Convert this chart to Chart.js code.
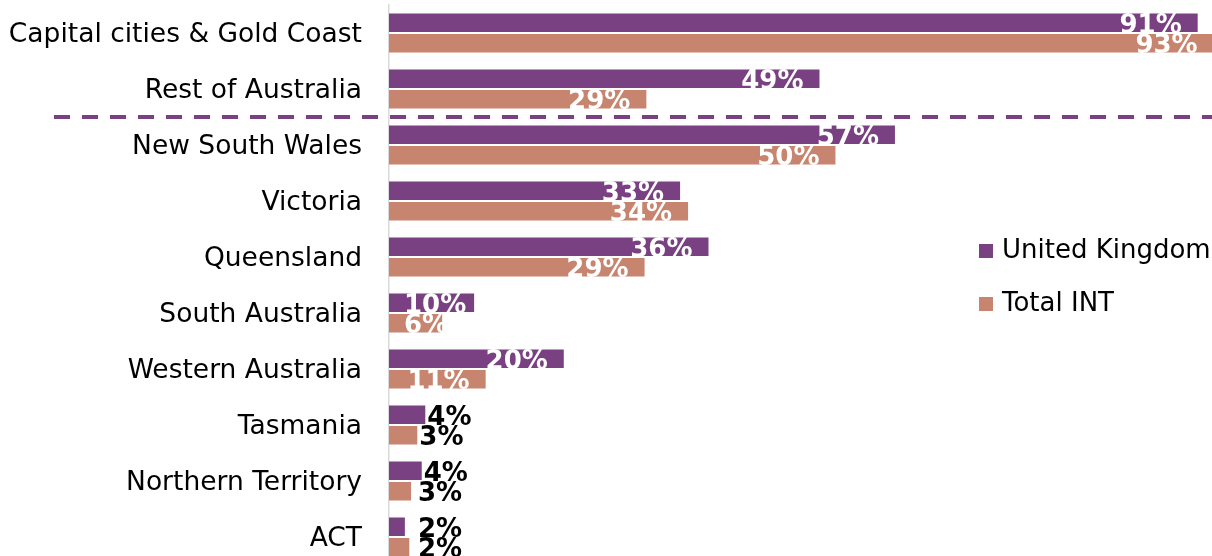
<!DOCTYPE html>
<html><head><meta charset="utf-8">
<script src="https://cdn.jsdelivr.net/npm/chart.js@4/dist/chart.umd.min.js"></script>
<style>
html,body{margin:0;padding:0;overflow:hidden;background:#fff;width:1212px;height:556px}
#wrap{position:absolute;left:0;top:0;width:1212px;height:570px}
</style></head>
<body><div id="wrap"><canvas id="c"></canvas></div>
<script>
const categories = ['Capital cities & Gold Coast','Rest of Australia','New South Wales','Victoria','Queensland','South Australia','Western Australia','Tasmania','Northern Territory','ACT'];
const ukValues  = [91.2, 48.6, 57.1, 32.9, 36.1, 9.7, 19.8, 4.2, 3.8, 1.9];
const intValues = [93.0, 29.1, 50.4, 33.8, 28.9, 6.1, 11.0, 3.3, 2.6, 2.4];
const seriesNames = ['United Kingdom','Total INT'];
const seriesColors = ['#7A4182','#C7846E'];
const FONT = '"DejaVu Sans", Verdana, sans-serif';

const labelPlugin = {
  id:'valueLabels',
  afterDatasetsDraw(chart){
    const ctx = chart.ctx;
    const axisX = chart.chartArea.left;
    ctx.save();
    ctx.font = 'bold 26px ' + FONT;
    ctx.textBaseline = 'middle';
    ctx.textAlign = 'left';
    chart.data.datasets.forEach((ds,di)=>{
      const meta = chart.getDatasetMeta(di);
      meta.data.forEach((bar,i)=>{
        const v = ds.data[i];
        const txt = Math.round(v) + '%';
        const w = ctx.measureText(txt).width;
        let x;
        if (v >= 5) { ctx.fillStyle = '#ffffff'; x = Math.max(bar.x - 17 - w, axisX + 15); }
        else { ctx.fillStyle = '#000000'; x = Math.max(bar.x + 1, axisX + 29); }
        ctx.fillText(txt, x, bar.y + 3);
      });
    });
    ctx.restore();
  }
};

const dividerPlugin = {
  id:'divider',
  afterDatasetsDraw(chart){
    const ctx = chart.ctx, ys = chart.scales.y;
    const y = (ys.getPixelForValue(1) + ys.getPixelForValue(2)) / 2;
    ctx.save();
    ctx.strokeStyle = seriesColors[0];
    ctx.lineWidth = 4;
    ctx.setLineDash([16,12]);
    ctx.beginPath();
    ctx.moveTo(54, y);
    ctx.lineTo(chart.width, y);
    ctx.stroke();
    ctx.restore();
  }
};

const legendPlugin = {
  id:'customLegend',
  afterDraw(chart){
    const ctx = chart.ctx;
    ctx.save();
    ctx.font = '26px ' + FONT;
    ctx.textBaseline = 'middle';
    ctx.textAlign = 'left';
    chart.data.datasets.forEach((ds,i)=>{
      const top = 244 + i*53;
      ctx.fillStyle = ds.backgroundColor;
      ctx.fillRect(979, top, 14, 14);
      ctx.fillStyle = '#000';
      ctx.fillText(ds.label, 1002, top + 7);
    });
    ctx.restore();
  }
};

new Chart(document.getElementById('c'), {
  type:'bar',
  data:{
    labels: categories,
    datasets:[
      {label: seriesNames[0], data: ukValues, backgroundColor: seriesColors[0], borderColor:'rgba(255,255,255,0.35)', borderWidth:1},
      {label: seriesNames[1], data: intValues, backgroundColor: seriesColors[1], borderColor:'rgba(255,255,255,0.35)', borderWidth:1}
    ]
  },
  options:{
    indexAxis:'y',
    responsive:true,
    maintainAspectRatio:false,
    animation:false,
    devicePixelRatio:1,
    layout:{autoPadding:false, padding:{top:5,bottom:5,left:0,right:0}},
    categoryPercentage:0.732,
    barPercentage:1,
    plugins:{legend:{display:false}, tooltip:{enabled:false}},
    scales:{
      x:{display:false, min:0, max:92.7},
      y:{
        grid:{display:false, drawTicks:false},
        border:{display:true, color:'#D9D9D9', width:1.5},
        ticks:{font:{family:FONT, size:26.5}, color:'#000', padding:27, autoSkip:false, labelOffset:2},
        afterFit(scale){ scale.width = 389; scale.paddingTop = 0; scale.paddingBottom = 0; }
      }
    }
  },
  plugins:[labelPlugin, dividerPlugin, legendPlugin]
});
</script>
</body></html>
